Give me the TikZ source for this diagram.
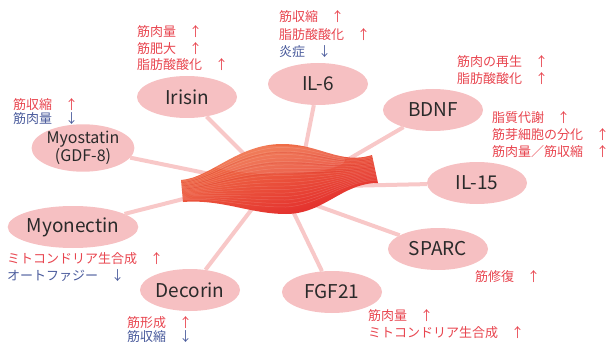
\documentclass[tikz,border=0pt]{standalone}
\usepackage{fontspec}
\setmainfont{Noto Sans CJK JP}
\usetikzlibrary{shapes.geometric}
\definecolor{jpred}{HTML}{E8454F}
\definecolor{jpblue}{HTML}{4A5B9C}
\definecolor{bubble}{HTML}{F6C0C2}
\definecolor{spoke}{HTML}{F8C8C8}
\definecolor{labelink}{HTML}{2A2A2A}
\definecolor{muscletop}{HTML}{F27A4C}
\definecolor{musclebot}{HTML}{E2282A}
\definecolor{fibre}{HTML}{C8201E}
\newcommand{\up}[1]{\textcolor{jpred}{#1　↑}}
\newcommand{\down}[1]{\textcolor{jpblue}{#1　↓}}
\begin{document}
\begin{tikzpicture}[x=1pt,y=-1pt,
  factor/.style={ellipse, fill=bubble, minimum width=100pt, minimum height=42pt,
    inner sep=0pt, text=labelink, font=\fontsize{19}{20}\selectfont},
  spokeline/.style={draw=spoke, line width=4pt},
  effect/.style={anchor=north west, align=left, inner sep=0pt,
    font=\fontsize{13}{#1}\selectfont},
  effect/.default=17pt]
\useasboundingbox (0,0) rectangle (610,342);

% myokine bubbles
\node[factor] (irisin) at (187,97) {Irisin};
\node[factor] (il6) at (318,84) {IL-6};
\node[factor] (bdnf) at (433,110) {BDNF};
\node[factor, align=center, font=\fontsize{16}{18}\selectfont] (myostatin) at (83,148) {Myostatin\\(GDF-8)};
\node[factor] (il15) at (477,183) {IL-15};
\node[factor] (myonectin) at (73,227) {Myonectin};
\node[factor] (sparc) at (438,249) {SPARC};
\node[factor] (decorin) at (190,290) {Decorin};
\node[factor] (fgf21) at (332,292) {FGF21};

% attachment points on the muscle
\coordinate (mIrisin) at (255,165);
\coordinate (mIL6) at (303,160);
\coordinate (mBDNF) at (335,167);
\coordinate (mIL15) at (340,186);
\coordinate (mSPARC) at (315,205);
\coordinate (mFGF) at (290,205);
\coordinate (mDecorin) at (255,205);
\coordinate (mMyonectin) at (195,196);
\coordinate (mMyostatin) at (215,175);

% spokes
\draw[spokeline] (irisin) -- (mIrisin);
\draw[spokeline] (il6) -- (mIL6);
\draw[spokeline] (bdnf) -- (mBDNF);
\draw[spokeline] (il15) -- (mIL15);
\draw[spokeline] (sparc) -- (mSPARC);
\draw[spokeline] (fgf21) -- (mFGF);
\draw[spokeline] (decorin) -- (mDecorin);
\draw[spokeline] (myonectin) -- (mMyonectin);
\draw[spokeline] (myostatin) -- (mMyostatin);

% muscle belly
\def\musclepath{(181,180) .. controls (210,178) and (238,144) .. (282,144)
  .. controls (320,144) and (340,165) .. (372,155) -- (378,183)
  .. controls (342,183) and (324,214) .. (286,214)
  .. controls (250,214) and (222,199) .. (183,202) -- cycle}
\shade[top color=muscletop, bottom color=musclebot, shading angle=15] \musclepath;
\begin{scope}
  \clip \musclepath;
  % soft highlight on the upper belly
  \fill[white, opacity=0.10] (275,160) ellipse [x radius=70pt, y radius=14pt];
  \foreach \t in {0.05,0.1,...,0.95} {
    \draw[white, opacity=0.16, line width=0.5pt]
      ({181+2*\t},{180+22*\t}) .. controls ({210+5*\t},{178+21*\t}) and ({238+5*\t},{144+70*\t})
      .. ({282+4*\t},{144+70*\t}) .. controls (320,{144+68*\t}) and ({340+2*\t},{165+18*\t})
      .. ({372+6*\t},{155+28*\t});
  }
  \foreach \t in {0.12,0.27,0.42} {
    \draw[fibre, opacity=0.25, line width=0.4pt]
      ({181+2*\t},{180+22*\t}) .. controls ({210+5*\t},{178+21*\t}) and ({238+5*\t},{144+70*\t})
      .. ({282+4*\t},{144+70*\t}) .. controls (320,{144+68*\t}) and ({340+2*\t},{165+18*\t})
      .. ({372+6*\t},{155+28*\t});
  }
\end{scope}

% effects
\node[effect=16.5pt] (eIrisin) at (137,25.5) {\up{筋肉量}\\\up{筋肥大}\\\up{脂肪酸酸化}};
\node[effect=17.5pt] (eIL6) at (279,10.5) {\up{筋収縮}\\\up{脂肪酸酸化}\\\down{炎症}};
\node[effect] (eBDNF) at (457,55.5) {\up{筋肉の再生}\\\up{脂肪酸酸化}};
\node[effect] (eIL15) at (492,111.5) {\up{脂質代謝}\\\up{筋芽細胞の分化}\\\up{筋肉量／筋収縮}};
\node[effect=14pt] (eMyostatin) at (13,98.5) {\up{筋収縮}\\\down{筋肉量}};
\node[effect] (eMyonectin) at (7,252.5) {\up{ミトコンドリア生合成}\\\down{オートファジー}};
\node[effect=14pt] (eDecorin) at (127,316.5) {\up{筋形成}\\\down{筋収縮}};
\node[effect] (eSPARC) at (475,270.5) {\up{筋修復}};
\node[effect] (eFGF) at (368,309.5) {\up{筋肉量}\\\up{ミトコンドリア生合成}};
\end{tikzpicture}
\end{document}
